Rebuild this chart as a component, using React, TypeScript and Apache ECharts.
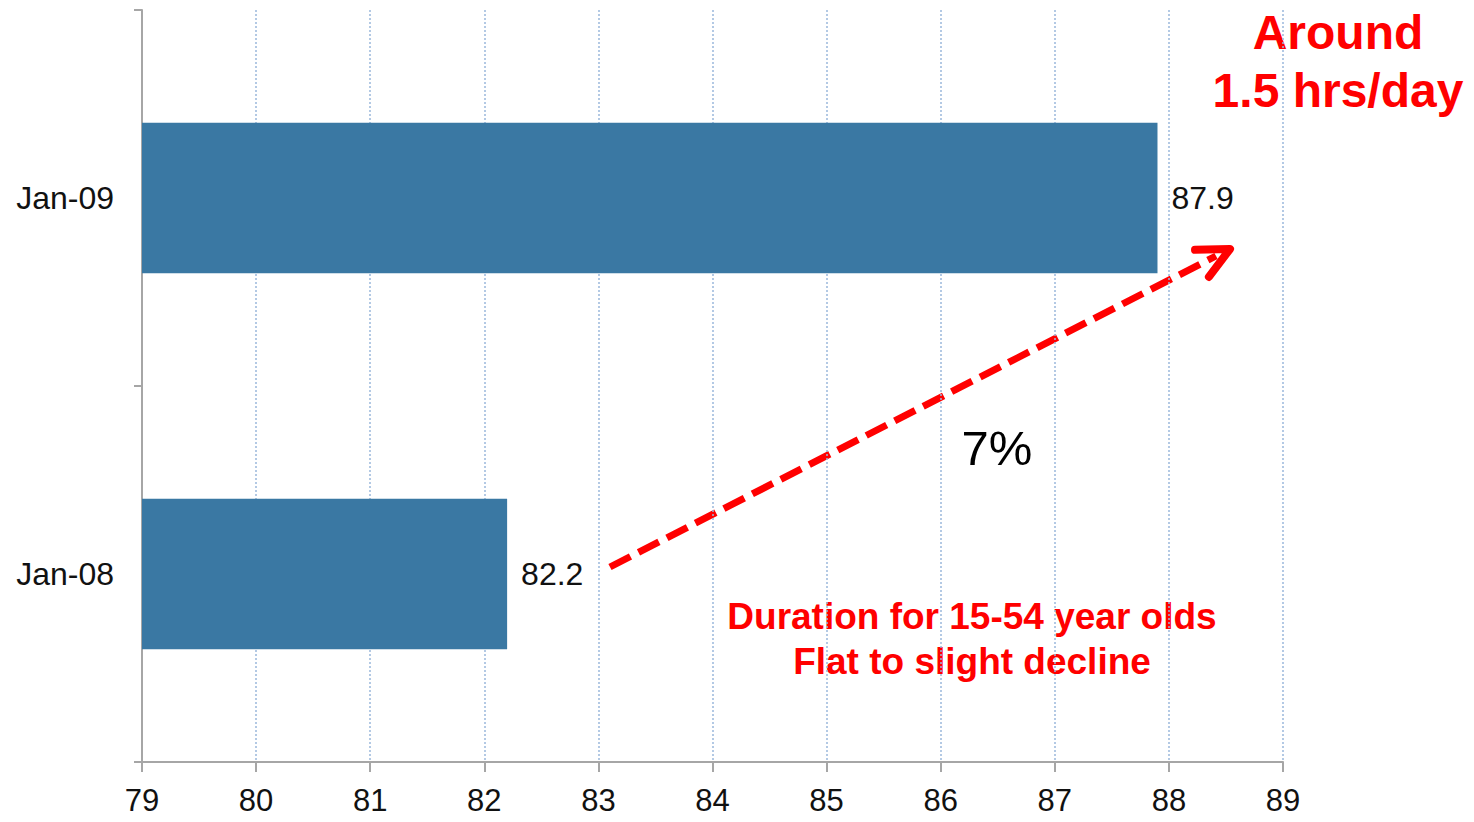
import React, { useEffect, useRef } from "react";
import * as echarts from "echarts";

const categories = ["Jan-08", "Jan-09"];
const values = [82.2, 87.9];
const axisMin = 79;
const axisMax = 89;
const axisStep = 1;

const changeLabel = "7%";
const noteTop = "Around\n1.5 hrs/day";
const noteBottom = "Duration for 15-54 year olds\nFlat to slight decline";

const FONT = "'Liberation Sans', Arial, sans-serif";
const RED = "#ff0000";

function arrowHead(tip: [number, number], from: [number, number], len: number, spread: number) {
  const ang = Math.atan2(tip[1] - from[1], tip[0] - from[0]);
  const a1 = ang + Math.PI - spread;
  const a2 = ang + Math.PI + spread;
  return [
    [tip[0] + len * Math.cos(a1), tip[1] + len * Math.sin(a1)],
    tip,
    [tip[0] + len * Math.cos(a2), tip[1] + len * Math.sin(a2)],
  ];
}

export default function App() {
  const ref = useRef<HTMLDivElement>(null);

  useEffect(() => {
    if (!ref.current) return;
    const chart = echarts.init(ref.current, null, { renderer: "svg" });
    const start: [number, number] = [610, 567];
    const tip: [number, number] = [1230, 249];

    chart.setOption({
      animation: false,
      grid: { left: 142, right: 191, top: 10, bottom: 60 },
      xAxis: {
        type: "value",
        min: axisMin,
        max: axisMax,
        interval: axisStep,
        axisLine: { show: true, lineStyle: { color: "#a6a6a6", width: 2 } },
        axisTick: { show: true, length: 10, lineStyle: { color: "#a6a6a6", width: 2 } },
        axisLabel: { color: "#111", fontSize: 31, fontFamily: FONT, margin: 23 },
        splitLine: {
          show: true,
          lineStyle: { color: "#9bb8dc", type: [2, 2], width: 1.5 },
        },
      },
      yAxis: {
        type: "category",
        data: categories,
        axisLine: { show: true, lineStyle: { color: "#a6a6a6", width: 2 } },
        axisTick: { show: true, length: 8, lineStyle: { color: "#a6a6a6", width: 2 } },
        axisLabel: { color: "#111", fontSize: 32, fontFamily: FONT, margin: 28 },
      },
      series: [
        {
          type: "bar",
          data: values,
          barCategoryGap: "60%",
          itemStyle: { color: "#3a78a3" },
          label: {
            show: true,
            position: "right",
            distance: 14,
            color: "#111",
            fontSize: 32,
            fontFamily: FONT,
            formatter: (p: any) => p.value.toFixed(1),
          },
        },
      ],
      graphic: [
        {
          type: "line",
          shape: { x1: start[0], y1: start[1], x2: tip[0] - 14, y2: tip[1] + 7 },
          style: { stroke: RED, lineWidth: 7, lineDash: [23, 9] },
        },
        {
          type: "polyline",
          shape: { points: arrowHead(tip, start, 35, 0.45) },
          style: { stroke: RED, lineWidth: 8, fill: null, lineCap: "round", lineJoin: "round" },
        },
        {
          type: "text",
          x: 997,
          y: 448,
          style: {
            text: changeLabel,
            fill: "#000",
            font: `49px ${FONT}`,
            align: "center",
            verticalAlign: "middle",
          },
        },
        {
          type: "text",
          x: 1338,
          y: 61,
          style: {
            text: noteTop,
            fill: RED,
            font: `bold 48px ${FONT}`,
            align: "center",
            verticalAlign: "middle",
            lineHeight: 58,
          },
        },
        {
          type: "text",
          x: 972,
          y: 639,
          style: {
            text: noteBottom,
            fill: RED,
            font: `bold 37px ${FONT}`,
            align: "center",
            verticalAlign: "middle",
            lineHeight: 45,
          },
        },
      ],
    });
    return () => chart.dispose();
  }, []);

  return <div ref={ref} style={{ width: 1474, height: 822, margin: -8 }} />;
}
